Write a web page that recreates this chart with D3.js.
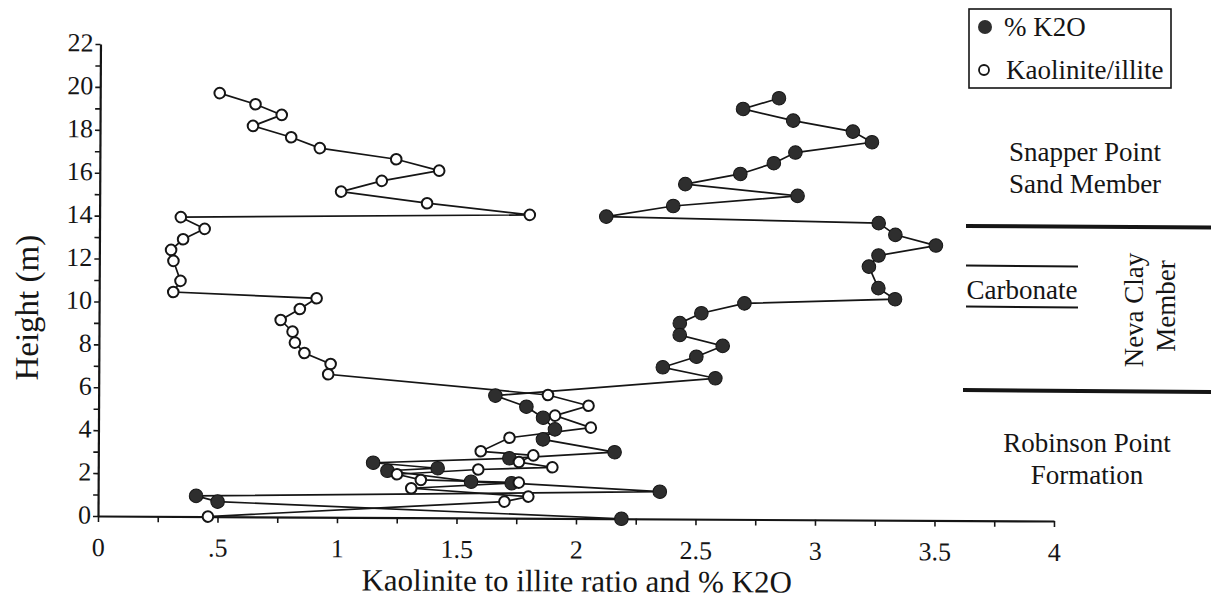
<!DOCTYPE html>
<html>
<head>
<meta charset="utf-8">
<script src="https://cdn.jsdelivr.net/npm/d3@7"></script>
<style>
  body { margin: 0; background: #fff; }
  svg { display: block; }
  svg text { font-family: "Liberation Serif", serif; }
</style>
</head>
<body>
<svg id="chart" width="1211" height="606"></svg>
<script>
// Kaolinite to illite ratio, sampled up the section (height in metres)
const kaoHeight = [19.74,19.23,18.74,18.22,17.70,17.20,16.70,16.18,15.69,15.18,
                   14.66,14.14,13.95,13.41,12.92,12.42,11.91,10.98,10.46,10.20,
                   9.70,9.18,8.64,8.13,7.65,7.14,6.66,5.75,5.26,4.79,
                   4.24,3.75,3.11,2.93,2.62,2.38,2.26,2.02,1.76,1.66,
                   1.37,1.01,0.77,0.00];
const kaoRatio  = [0.50,0.65,0.76,0.64,0.80,0.92,1.24,1.42,1.18,1.01,
                   1.37,1.80,0.34,0.44,0.35,0.30,0.31,0.34,0.31,0.91,
                   0.84,0.76,0.81,0.82,0.86,0.97,0.96,1.88,2.05,1.91,
                   2.06,1.72,1.60,1.82,1.76,1.90,1.59,1.25,1.35,1.76,
                   1.31,1.80,1.70,0.46];

// Percent K2O for the same section
const k2oHeight = [19.64,19.13,18.60,18.10,17.61,17.11,16.61,16.10,15.61,15.09,
                   14.59,14.08,13.84,13.30,12.81,12.33,11.81,10.81,10.30,10.07,
                   9.60,9.13,8.58,8.08,7.57,7.07,6.57,5.71,5.20,4.69,
                   4.15,3.68,3.10,2.79,2.55,2.31,2.18,1.69,1.63,1.27,
                   0.96,0.70,0.00];
const k2oPercent = [2.84,2.69,2.90,3.15,3.23,2.91,2.82,2.68,2.45,2.92,
                    2.40,2.12,3.26,3.33,3.50,3.26,3.22,3.26,3.33,2.70,
                    2.52,2.43,2.43,2.61,2.50,2.36,2.58,1.66,1.79,1.86,
                    1.91,1.86,2.16,1.72,1.15,1.42,1.21,1.56,1.73,2.35,
                    0.41,0.50,2.19];

// Axis ticks
const xTickValues = [0,0.5,1,1.5,2,2.5,3,3.5,4];
const xTickLabels = ["0",".5","1","1.5","2","2.5","3","3.5","4"];
const xMinorStep = 0.25;
const yTickValues = [0,2,4,6,8,10,12,14,16,18,20,22];
const yMinorStep = 1;

// Stratigraphic column annotations
const unitNames = ["Snapper Point", "Sand Member", "Carbonate", "Neva Clay", "Member", "Robinson Point", "Formation"];
const legendLabels = ["% K2O", "Kaolinite/illite"];

const serif = "'Liberation Serif', serif";
const svg = d3.select("#chart").style("font-family", serif);
const ink = "#151515";

const x = d3.scaleLinear().domain([0, 4]).range([98, 1054]);
const y = d3.scaleLinear().domain([0, 22]).range([516, 44]);

// Small helper so every label gets the serif face inline
const face = (sel, size) => sel.style("font-family", serif).style("font-size", size + "px").attr("fill", ink);

// The plotting frame sits at a slight tilt
const plot = svg.append("g").attr("transform", "rotate(0.3, 97, 516)");

// Y axis
const yAxis = d3.axisLeft(y)
  .tickValues(d3.range(0, 22.001, yMinorStep))
  .tickSize(5).tickSizeOuter(0)
  .tickFormat(d => yTickValues.includes(d) ? String(d) : "");
const gy = plot.append("g").attr("transform", `translate(${x(0)},0)`).call(yAxis);
gy.attr("font-family", null).attr("font-size", null);
gy.select(".domain").attr("stroke", ink).attr("stroke-width", 2.2);
gy.selectAll(".tick line").attr("stroke", ink).attr("stroke-width", 1.6);
face(gy.selectAll(".tick text").attr("x", -7).attr("y", 7).attr("dy", null), 26);

// X axis
const xAxis = d3.axisBottom(x)
  .tickValues(d3.range(0, 4.001, xMinorStep))
  .tickSize(6).tickSizeOuter(0)
  .tickFormat(d => {
    const i = xTickValues.indexOf(d);
    return i >= 0 ? xTickLabels[i] : "";
  });
const gx = plot.append("g").attr("transform", `translate(0,${y(0)})`).call(xAxis);
gx.attr("font-family", null).attr("font-size", null);
gx.select(".domain").attr("stroke", ink).attr("stroke-width", 2.2);
gx.selectAll(".tick line").attr("stroke", ink).attr("stroke-width", 1.6);
face(gx.selectAll(".tick text").attr("y", 40).attr("dy", null), 26);

// Axis titles
face(plot.append("text")
  .attr("transform", `translate(37, 308) rotate(-90)`)
  .attr("text-anchor", "middle"), 33)
  .text("Height (m)");
face(plot.append("text")
  .attr("x", 577).attr("y", 589)
  .attr("text-anchor", "middle"), 31)
  .text("Kaolinite to illite ratio and % K2O");

// Series
const k2o = k2oHeight.map((h, i) => ({ h, v: k2oPercent[i] }));
const kao = kaoHeight.map((h, i) => ({ h, v: kaoRatio[i] }));
const line = d3.line().x(d => x(d.v)).y(d => y(d.h));

plot.append("path").datum(k2o).attr("d", line)
  .attr("fill", "none").attr("stroke", ink).attr("stroke-width", 1.7);
plot.append("path").datum(kao).attr("d", line)
  .attr("fill", "none").attr("stroke", ink).attr("stroke-width", 1.7);

plot.append("g").selectAll("circle").data(k2o).join("circle")
  .attr("cx", d => x(d.v)).attr("cy", d => y(d.h)).attr("r", 6.8)
  .attr("fill", "#2e2e2e").attr("stroke", ink).attr("stroke-width", 1);
plot.append("g").selectAll("circle").data(kao).join("circle")
  .attr("cx", d => x(d.v)).attr("cy", d => y(d.h)).attr("r", 5.3)
  .attr("fill", "#fff").attr("stroke", ink).attr("stroke-width", 2);

// Legend
const legend = svg.append("g");
legend.append("rect").attr("x", 969).attr("y", 9).attr("width", 202).attr("height", 79)
  .attr("fill", "none").attr("stroke", ink).attr("stroke-width", 1.6);
legend.append("circle").attr("cx", 985).attr("cy", 27).attr("r", 7).attr("fill", "#2e2e2e");
face(legend.append("text").attr("x", 1004).attr("y", 36), 27).text(legendLabels[0]);
legend.append("circle").attr("cx", 984).attr("cy", 70).attr("r", 5).attr("fill", "#fff")
  .attr("stroke", ink).attr("stroke-width", 1.8);
face(legend.append("text").attr("x", 1006).attr("y", 79), 27).text(legendLabels[1]);

// Stratigraphic column
const column = svg.append("g");
const bounds = [
  { x1: 966, y1: 226, x2: 1211, y2: 227.5, w: 4 },
  { x1: 966, y1: 265.5, x2: 1078, y2: 266.5, w: 2 },
  { x1: 966, y1: 306.5, x2: 1078, y2: 307.5, w: 2 },
  { x1: 963, y1: 390, x2: 1211, y2: 392, w: 4 }
];
column.selectAll("line").data(bounds).join("line")
  .attr("x1", d => d.x1).attr("y1", d => d.y1).attr("x2", d => d.x2).attr("y2", d => d.y2)
  .attr("stroke", ink).attr("stroke-width", d => d.w);

const unitText = [
  { t: unitNames[0], x: 1085, y: 161, r: 0 },
  { t: unitNames[1], x: 1085, y: 193, r: 0 },
  { t: unitNames[2], x: 1022, y: 299, r: 0 },
  { t: unitNames[3], x: 1143, y: 310, r: -90 },
  { t: unitNames[4], x: 1175, y: 306, r: -90 },
  { t: unitNames[5], x: 1087, y: 452, r: 0 },
  { t: unitNames[6], x: 1087, y: 484, r: 0 }
];
face(column.selectAll("text").data(unitText).join("text")
  .attr("transform", d => `translate(${d.x},${d.y}) rotate(${d.r})`)
  .attr("text-anchor", "middle"), 27)
  .text(d => d.t);
</script>
</body>
</html>
